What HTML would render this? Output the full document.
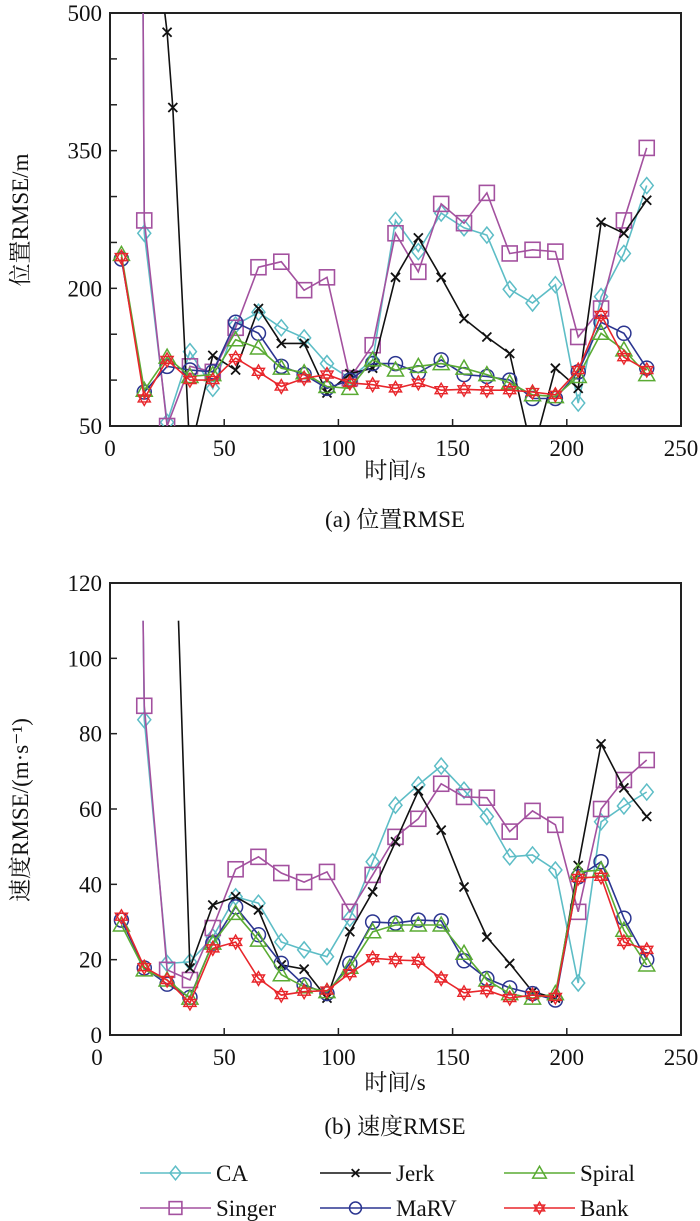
<!DOCTYPE html>
<html><head><meta charset="utf-8">
<style>
html,body{margin:0;padding:0;background:#fff;}
svg{display:block;}
text{font-family:"Liberation Serif","Noto Serif CJK SC",serif;fill:#111;}
</style></head>
<body>
<svg id="chart" width="700" height="1221" viewBox="0 0 700 1221" xmlns="http://www.w3.org/2000/svg">
<defs>
<clipPath id="clipA"><rect x="110" y="13" width="571" height="413"/></clipPath>
<clipPath id="clipB"><rect x="110" y="583" width="571" height="452"/></clipPath>
</defs>
<g id="panelA"></g>
<g id="panelB"></g>
<g id="legend"></g>
</svg>
<script>
const T = [5,15,25,35,45,55,65,75,85,95,105,115,125,135,145,155,165,175,185,195,205,215,225,235];
const T15 = [14.5,15,25,35,45,55,65,75,85,95,105,115,125,135,145,155,165,175,185,195,205,215,225,235];
const xTicks = [0,50,100,150,200,250];
const yTicksA = [50,200,350,500];
const yTicksB = [0,20,40,60,80,100,120];

// Panel (a) position RMSE
const caA = [500,260,54,131,91,160,174,157,146,118,102,122,274,240,282,266,258,199,184,204,75,191,238,312];
const singerA = [500,274,50,115,109,157,223,229,198,212,102,138,260,218,292,271,304,238,242,240,147,178,274,353];
const jerkTA = [24,25,27.5,35,45,55,65,75,85,95,105,115,125,135,145,155,165,175,185,195,205,215,225,235];
const jerkA = [500,479,397,20,127,111,178,140,140,86,107,113,212,255,212,167,147,129,20,113,91,272,260,296];
const marvA = [232,87,115,111,109,163,151,115,106,91,100,118,118,108,122,106,104,100,80,80,109,163,151,113];
const spiralA = [237,89,125,104,106,144,135,113,108,93,91,122,111,115,118,113,106,97,84,82,104,151,133,106];
const bankA = [234,80,122,100,100,124,109,93,102,106,97,95,91,97,89,90,89,89,87,84,111,171,125,111];

// Panel (b) velocity RMSE
const caB = [110,83.7,19,19.4,26,36.7,35,24.7,22.6,20.8,31,46,61,66.4,71.4,65,58,47.3,47.8,43.8,13.8,56.6,60.8,64.5];
const singerB = [110,87.4,17.3,14.6,28.4,44,47.3,43,40.6,43.3,32.7,42.5,52.6,57.4,66.7,63.2,63,54,59.5,55.8,32.7,60,67.7,73];
const jerkTB = [30,35,45,55,65,75,85,95,105,115,125,135,145,155,165,175,185,195,205,215,225,235];
const jerkB = [110,17.8,34.5,36.7,33.2,18.6,17.5,9.8,27.4,38,51.3,64.8,54.4,39.3,26,19,11.5,9.8,45,77.3,65.6,58];
const marvB = [30.5,17.8,13.5,10,24.4,34,26.6,19,13.3,11,19,30,29.7,30.5,30.3,19.7,15,12.5,11,9.3,42,46,31,20];
const spiralB = [29.2,17.3,14.6,9.8,24.4,32.3,25.2,16,12.8,11.5,18,27.4,29.2,29.2,29.2,21.7,14.6,11,9.8,11,43.3,43.8,27.8,18.6];
const bankB = [31.4,18,14.6,8.5,23,24.7,15,10.6,11.5,11.8,16.4,20.4,19.9,19.7,15,11.2,11.9,9.8,10.6,10.1,41.7,42,24.7,22.6];

const NS = "http://www.w3.org/2000/svg";
const COL = {CA:"#5dbdc6",Singer:"#a3519f",Jerk:"#111",MaRV:"#2b3590",Spiral:"#5aab33",Bank:"#e8262b"};

function mk(tag, attrs, parent){const e=document.createElementNS(NS,tag);for(const k in attrs)e.setAttribute(k,attrs[k]);if(parent)parent.appendChild(e);return e;}

function xA(t){return 110 + t*571/250;}
function yA(v){return 426 - (v-50)*413/450;}
function yB(v){return 1035 - v*452/120;}

function marker(g, type, x, y, color, s){
  s = s||1;
  let e;
  if(type==="CA"){e=mk("path",{d:`M${x} ${y-8*s}L${x+6.5*s} ${y}L${x} ${y+8*s}L${x-6.5*s} ${y}Z`,fill:"none",stroke:color,"stroke-width":1.5},g);}
  else if(type==="Singer"){e=mk("rect",{x:x-7.5*s,y:y-7.5*s,width:15*s,height:15*s,fill:"none",stroke:color,"stroke-width":1.6},g);}
  else if(type==="Jerk"){e=mk("path",{d:`M${x-4.5*s} ${y-4.5*s}L${x+4.5*s} ${y+4.5*s}M${x-4.5*s} ${y+4.5*s}L${x+4.5*s} ${y-4.5*s}`,fill:"none",stroke:color,"stroke-width":1.8},g);}
  else if(type==="MaRV"){e=mk("circle",{cx:x,cy:y,r:7*s,fill:"none",stroke:color,"stroke-width":1.5},g);}
  else if(type==="Spiral"){e=mk("path",{d:`M${x} ${y-8*s}L${x+8*s} ${y+6*s}L${x-8*s} ${y+6*s}Z`,fill:"none",stroke:color,"stroke-width":1.5},g);}
  else {const r=7*s,r2=r*0.87;e=mk("path",{d:`M${x} ${y-r}L${x+r2} ${y+r/2}L${x-r2} ${y+r/2}ZM${x} ${y+r}L${x+r2} ${y-r/2}L${x-r2} ${y-r/2}Z`,fill:"none",stroke:color,"stroke-width":1.4},g);}
  
  
}

function series(panel, clip, name, ts, vs, ys, ymax){
  const g = mk("g",{"clip-path":`url(#${clip})`},panel);
  
  
  const pts = ts.map((t,i)=>`${xA(t).toFixed(1)},${ys(vs[i]).toFixed(1)}`).join(" ");
  const pl = mk("polyline",{points:pts,fill:"none",stroke:COL[name],"stroke-width":1.6},g);
  
  
  ts.forEach((t,i)=>{ if(vs[i] < ymax) marker(g,name,xA(t),ys(vs[i]),COL[name]); });
}

function txt(parent, x, y, s, attrs, nm){
  const e = mk("text", Object.assign({x:x,y:y,"font-size":23},attrs||{}), parent);
  e.textContent = s;
  
  
  return e;
}

function axes(panel, top, bottom, yTicks, ys, yMinor, labels){
  const fr = mk("rect",{x:110,y:top,width:571,height:bottom-top,fill:"none",stroke:"#222","stroke-width":2},panel);
  
  
  xTicks.forEach(t=>{
    if(t>0 && t<250){const l=mk("line",{x1:xA(t),x2:xA(t),y1:bottom,y2:bottom-7,stroke:"#222","stroke-width":1.5},panel);
      }
    let lx = xA(t);
    if(labels.zeroX!==undefined && t===0) lx = labels.zeroX;
    txt(panel, lx, bottom+30, String(t), {"text-anchor":"middle"}, 'x-tick-label');
  });
  yMinor.forEach(v=>{
    const l=mk("line",{x1:110,x2:117,y1:ys(v),y2:ys(v),stroke:"#222","stroke-width":1.5},panel);
    
  });
  yTicks.forEach(v=>{ txt(panel, 102, ys(v)+8, String(v), {"text-anchor":"end"}, 'y-tick-label'); });
}

const pA = document.getElementById("panelA");
axes(pA, 13, 426, yTicksA, yA, [100,150,200,250,300,350,400,450], {});
series(pA,"clipA","CA",T15,caA,yA,500);
series(pA,"clipA","Singer",T15,singerA,yA,500);
series(pA,"clipA","Jerk",jerkTA,jerkA,yA,500);
series(pA,"clipA","MaRV",T,marvA,yA,500);
series(pA,"clipA","Spiral",T,spiralA,yA,500);
series(pA,"clipA","Bank",T,bankA,yA,500);
txt(pA, 395, 478, "时间/s", {"text-anchor":"middle"}, 'x-axis-title');
txt(pA, 395, 527, "(a) 位置RMSE", {"text-anchor":"middle"}, 'panel-a-caption');
txt(pA, 28, 220, "位置RMSE/m", {"text-anchor":"middle",transform:"rotate(-90 28 220)"}, 'y-axis-title');

const pB = document.getElementById("panelB");
axes(pB, 583, 1035, yTicksB, yB, [20,40,60,80,100], {zeroX:97});
series(pB,"clipB","CA",T15,caB,yB,110);
series(pB,"clipB","Singer",T15,singerB,yB,110);
series(pB,"clipB","Jerk",jerkTB,jerkB,yB,110);
series(pB,"clipB","MaRV",T,marvB,yB,110);
series(pB,"clipB","Spiral",T,spiralB,yB,110);
series(pB,"clipB","Bank",T,bankB,yB,110);
txt(pB, 395, 1090, "时间/s", {"text-anchor":"middle"}, 'x-axis-title');
txt(pB, 395, 1134, "(b) 速度RMSE", {"text-anchor":"middle"}, 'panel-b-caption');
txt(pB, 28, 810, "速度RMSE/(m·s⁻¹)", {"text-anchor":"middle",transform:"rotate(-90 28 810)"}, 'y-axis-title');

const lg = document.getElementById("legend");
const legendItems = [["CA",140,1173],["Jerk",320,1173],["Spiral",504,1173],["Singer",140,1208],["MaRV",320,1208],["Bank",504,1208]];
legendItems.forEach(([n,x,y])=>{
  const g = mk("g",{},lg);
  
  
  mk("line",{x1:x,x2:x+71,y1:y,y2:y,stroke:COL[n],"stroke-width":1.6},g);
  marker(g,n,x+35.5,y,COL[n],0.85);
  txt(g, x+76, y+8, n, {}, 'legend-label');
});
</script>
</body></html>
